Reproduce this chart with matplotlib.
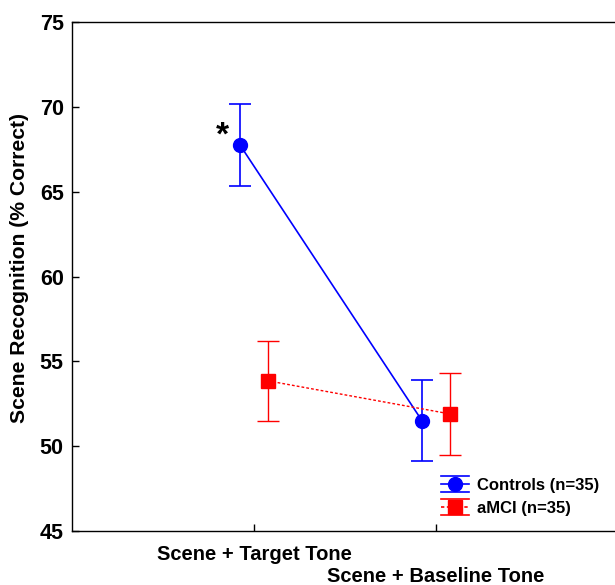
import matplotlib
matplotlib.use("Agg")
import matplotlib.pyplot as plt
from matplotlib.lines import Line2D
from matplotlib.legend_handler import HandlerBase

categories = ["Scene + Target Tone", "Scene + Baseline Tone"]
controls_mean = [67.75, 51.5]
controls_err = [2.4, 2.4]
amci_mean = [53.85, 51.9]
amci_err = [2.35, 2.4]
yticks = [45, 50, 55, 60, 65, 70, 75]

plt.rcParams['font.family'] = ['Liberation Sans', 'DejaVu Sans']
plt.rcParams['font.weight'] = 'bold'

fig = plt.figure(figsize=(6.15, 5.85), dpi=100)
W, H = 615, 585
left, right, top, bottom = 72, 618, 22, 531
ax = fig.add_axes([left / W, 1 - bottom / H, (right - left) / W, (bottom - top) / H])

off = 14 / 182.0
x0 = [0, 1]
xc = [x - off for x in x0]
xa = [x + off for x in x0]

BLUE = '#0000ff'
RED = '#ff0000'
ax.errorbar(xc, controls_mean, yerr=controls_err, color=BLUE, lw=1.2,
            marker='o', ms=10, capsize=8, capthick=1.2, elinewidth=1.2)
ax.errorbar(xa, amci_mean, yerr=amci_err, color=RED, lw=1.0, ls=(0, (2, 1.5)),
            marker='s', ms=9.5, capsize=8, capthick=1.0, elinewidth=1.0)

ax.text(xc[0] - 0.095, controls_mean[0] + 0.55, '*', fontsize=24, fontweight='bold',
        ha='center', va='center')

ax.set_xlim(-1, 2)
ax.set_ylim(45, 75)
ax.set_yticks(yticks)
ax.set_xticks(x0)
ax.set_xticklabels([])
ax.text(x0[0], 45 - 0.85, categories[0], ha='center', va='top', fontsize=14.5, fontweight='bold')
ax.text(x0[1], 45 - 2.15, categories[1], ha='center', va='top', fontsize=14.5, fontweight='bold')

ax.tick_params(axis='both', direction='in', length=5, width=1)
ax.tick_params(axis='y', labelsize=15.5, pad=6)
for lab in ax.get_yticklabels():
    lab.set_fontweight('bold')
ax.set_ylabel('Scene Recognition (% Correct)', fontsize=15.2, fontweight='bold',
              va='center')
ax.yaxis.set_label_coords((20 - left) / (right - left), 1 - (268 - top) / (bottom - top))
for s in ax.spines.values():
    s.set_linewidth(1)


class ErrHandler(HandlerBase):
    def __init__(self, color, marker, ms, ls):
        super().__init__()
        self.color, self.marker, self.ms, self.ls = color, marker, ms, ls

    def create_artists(self, legend, orig_handle, xdescent, ydescent, width, height,
                       fontsize, trans):
        cy = height / 2 - ydescent
        d = 8 * 72 / 100.0
        arts = []
        for dy, ls in ((d, '-'), (-d, '-'), (0, self.ls)):
            arts.append(Line2D([-xdescent, -xdescent + width], [cy + dy, cy + dy],
                               color=self.color, lw=1.2, ls=ls, transform=trans))
        arts.append(Line2D([-xdescent + width / 2], [cy], marker=self.marker, ms=self.ms,
                           color=self.color, ls='none', transform=trans))
        return arts


h1 = Line2D([], [], color=BLUE)
h2 = Line2D([], [], color=RED)
leg = ax.legend([h1, h2], ['Controls (n=35)', 'aMCI (n=35)'],
                handler_map={h1: ErrHandler(BLUE, 'o', 10, '-'),
                             h2: ErrHandler(RED, 's', 9.5, (0, (2, 1.5)))},
                loc='lower left', frameon=False, fontsize=12, handlelength=1.7,
                handleheight=1.0, borderpad=0.0, labelspacing=0.4, handletextpad=0.45,
                borderaxespad=0)
leg.set_bbox_to_anchor(((441 - left) / (right - left), (531 - 516) / (bottom - top)),
                       transform=ax.transAxes)

fig.savefig('out.png', dpi=100)
